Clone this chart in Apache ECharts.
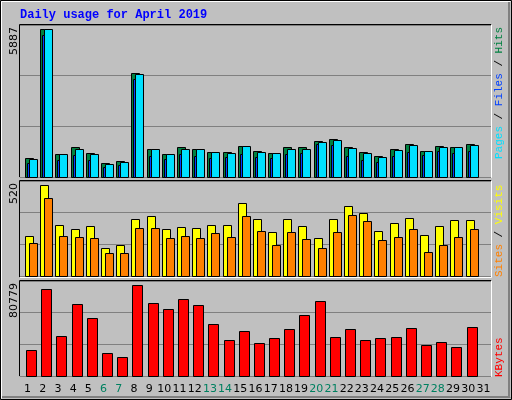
<!DOCTYPE html>
<html><head><meta charset="utf-8">
<script src="https://cdn.jsdelivr.net/npm/echarts@6/dist/echarts.min.js"></script>
<style>html,body{margin:0;padding:0;background:#c0c0c0}#c{width:512px;height:400px}</style>
</head><body><div id="c"></div>
<script>
const days = Array.from({length:31},(_,i)=>String(i+1));
const weekend = ['6','7','13','14','20','21','27','28'];
const hits  = [773,5887,932,1185,972,573,653,4142,1132,932,1185,1132,1012,1012,1252,1052,972,1185,1185,1452,1532,1212,1012,852,1132,1332,1052,1252,1212,1332,0];
const files = [733,5887,932,1132,932,533,613,4089,1132,932,1132,1132,1012,972,1252,1012,972,1132,1132,1412,1492,1172,972,813,1092,1292,1052,1212,1212,1292,0];
const pages = [573,5661,693,892,693,413,493,3889,852,733,932,852,773,813,932,813,773,932,972,1332,1292,852,693,613,852,1012,892,1052,972,1052,0];
const visits= [226,520,288,266,283,158,175,322,339,266,277,271,288,288,418,322,249,322,283,215,322,401,356,254,300,333,232,283,317,317,0];
const sites = [187,447,226,220,215,130,130,271,271,215,226,215,243,220,339,254,175,249,209,158,249,345,311,203,220,266,136,175,220,266,0];
const kbytes= [23289,77238,35671,63972,51590,20636,17098,80779,64856,59550,68394,63087,46284,32133,40093,29480,33902,41862,54243,66625,34786,41862,32133,33902,34786,42746,27711,30364,25942,43630,0];
const maxLabels = ['5887','520','80779'];
const axisMax = [6060,541,84313];

function barSeries(idx, data, color, off, w){
  return {type:'custom', xAxisIndex:idx, yAxisIndex:idx, data:data.map((v,i)=>[i,v]),
    renderItem:(params,api)=>{
      const v=api.value(1); if(!v) return;
      const top=api.coord([api.value(0),v]); const base=api.coord([api.value(0),0]);
      const bw=api.size([1,0])[0]; const left=top[0]-bw/2;
      return {type:'rect', shape:{x:Math.round(left+off)+0.5,y:Math.round(top[1])+0.5,width:w,height:Math.round(base[1]-top[1])},
        style:{fill:color,stroke:'#000',lineWidth:1}};
    }};
}
const grids=[{left:20,right:21,top:25,height:152},{left:20,right:21,top:181,height:95},{left:20,right:21,top:281,height:95}];
const xAxes=grids.map((g,i)=>({type:'category',gridIndex:i,data:days,boundaryGap:true,
  axisLine:{show:false},axisTick:{show:false},
  axisLabel:i<2?{show:false}:{show:true,interval:0,margin:8,fontSize:11,fontFamily:'DejaVu Sans',
    formatter:v=>weekend.includes(v)?'{w|'+v+'}':'{n|'+v+'}',
    rich:{w:{color:'#008060',fontSize:11,fontFamily:'DejaVu Sans'},n:{color:'#000',fontSize:11,fontFamily:'DejaVu Sans'}}}}));
const yAxes=grids.map((g,i)=>({type:'value',gridIndex:i,min:0,max:axisMax[i],interval:axisMax[i]/3,
  axisLabel:{show:false},axisLine:{show:false},axisTick:{show:false},
  splitLine:{show:true,lineStyle:{color:'#808080',width:1}}}));
const series=[
  barSeries(0,hits,'#008040',5,8),
  barSeries(0,files,'#00e0ff',9,8),
  barSeries(0,pages,'#0040ff',7,2),
  barSeries(1,visits,'#ffff00',5,8),
  barSeries(1,sites,'#ff8000',9,8),
  barSeries(2,kbytes,'#ff0000',6,10)
];
function line(x1,y1,x2,y2,c){return {type:'line',shape:{x1,y1,x2,y2},style:{stroke:c,lineWidth:1},silent:true};}
const mono='Liberation Mono';
const graphic=[
  {type:'rect',shape:{x:0.5,y:0.5,width:511,height:399},style:{fill:'none',stroke:'#000'}},
  line(1.5,1.5,510.5,1.5,'#fff'),line(1.5,1.5,1.5,398.5,'#fff'),
  line(2,397.5,510.5,397.5,'#808080'),line(509.5,2,509.5,398,'#808080'),
  line(2,396.5,510,396.5,'#808080'),line(508.5,2,508.5,397,'#808080'),
  {type:'text',x:20,y:9,style:{text:'Daily usage for April 2019',fill:'#0000ff',font:'bold 12px "Liberation Mono"'}},
];
[[24.5,177.5],[180.5,277.5],[280.5,376.5]].forEach(([t,b])=>{
  graphic.push(line(19.5,t,491.5,t,'#000'),line(19.5,t,19.5,b,'#000'),
    line(491.5,t,491.5,b,'#fff'),line(19.5,b,491.5,b,'#fff'));
});
graphic.push(
  {type:'text',x:9,y:27,rotation:Math.PI/2,style:{text:maxLabels[0],fill:'#000',font:'11px "DejaVu Sans"',align:'right'}},
  {type:'text',x:9,y:183,rotation:Math.PI/2,style:{text:maxLabels[1],fill:'#000',font:'11px "DejaVu Sans"',align:'right'}},
  {type:'text',x:9,y:283,rotation:Math.PI/2,style:{text:maxLabels[2],fill:'#000',font:'11px "DejaVu Sans"',align:'right'}},
  {type:'text',x:494,y:27,rotation:Math.PI/2,style:{text:'{p|Pages}{s| / }{f|Files}{s| / }{h|Hits}',align:'right',font:'11px "Liberation Mono"',
    rich:{p:{fill:'#00e0ff',font:'11px "Liberation Mono"'},f:{fill:'#0040ff',font:'11px "Liberation Mono"'},h:{fill:'#008040',font:'11px "Liberation Mono"'},s:{fill:'#000',font:'11px "Liberation Mono"'}}}},
  {type:'text',x:494,y:277,rotation:Math.PI/2,style:{text:'{a|Sites}{s| / }{b|Visits}',align:'left',font:'11px "Liberation Mono"',
    rich:{a:{fill:'#ff8000',font:'11px "Liberation Mono"'},b:{fill:'#ffff00',font:'11px "Liberation Mono"'},s:{fill:'#000',font:'11px "Liberation Mono"'}}}},
  {type:'text',x:494,y:377,rotation:Math.PI/2,style:{text:'KBytes',align:'left',fill:'#ff0000',font:'11px "Liberation Mono"'}}
);
const chart=echarts.init(document.getElementById('c'));
chart.setOption({animation:false,backgroundColor:'#c0c0c0',grid:grids,xAxis:xAxes,yAxis:yAxes,series,graphic});
</script></body></html>
